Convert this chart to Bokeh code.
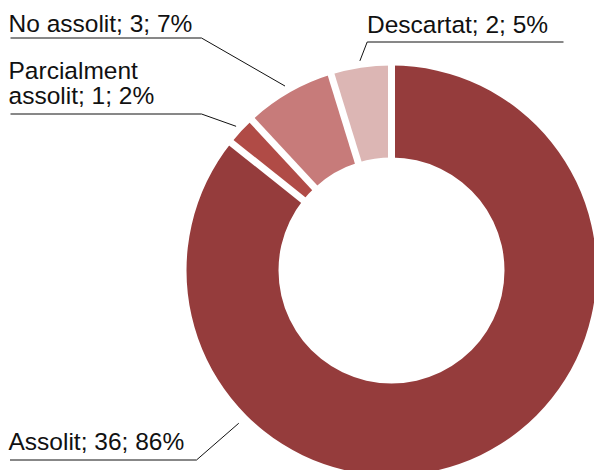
import math
from bokeh.plotting import figure
from bokeh.models import Range1d, ColumnDataSource
from bokeh.core.properties import value
from bokeh.embed import file_html
from bokeh.resources import INLINE

# ---- data ----
categories = ["Assolit", "Parcialment assolit", "No assolit", "Descartat"]
counts = [36, 1, 3, 2]
colors = ["#953c3c", "#b04b46", "#c77b7a", "#dcb6b4"]

# ---- layout (screen pixels of the 594x470 window) ----
W, H = 594, 470
def Y(sy):
    return H - sy

CX, CY = 391, 270
R_OUT, R_IN = 205, 113
GAP = 7
TEXT_SHIFT = 9  # renderer baseline correction

# label layout: text x, baselines, underline y, underline x0/x1, elbow side, leader radius, leader angle override
label_layout = {
    "Assolit": dict(tx=8, lines_split=False, base=[450.3], uy=459.5, ux0=9.5, ux1=196, elbow="right", r=216, ang=225),
    "Parcialment assolit": dict(tx=8, lines_split=True, base=[79, 104.3], uy=113.5, ux0=10, ux1=201, elbow="right", r=212, ang=None),
    "No assolit": dict(tx=8, lines_split=False, base=[31.7], uy=37.5, ux0=10, ux1=201, elbow="right", r=213, ang=None),
    "Descartat": dict(tx=366.5, lines_split=False, base=[32.7], uy=41.5, ux0=366.7, ux1=563, elbow="left", r=212, ang=None),
}

total = sum(counts)
pcts = [round(c * 100 / total) for c in counts]

starts, ends = [], []
cum = 0
for c in counts:
    a0 = math.pi / 2 - 2 * math.pi * cum / total
    cum += c
    a1 = math.pi / 2 - 2 * math.pi * cum / total
    starts.append(a1)
    ends.append(a0)
mids = [(s + e) / 2 for s, e in zip(starts, ends)]

p = figure(width=W, height=H, x_range=Range1d(0, W), y_range=Range1d(0, H),
           output_backend="svg", toolbar_location=None,
           x_axis_location=None, y_axis_location=None, min_border=0,
           outline_line_color=None, background_fill_color="white", border_fill_color="white")
p.grid.visible = False

src = ColumnDataSource(dict(cat=categories, start=starts, end=ends, color=colors))
p.annular_wedge(x=CX, y=Y(CY), inner_radius=R_IN, outer_radius=R_OUT,
                start_angle="start", end_angle="end", color="color",
                line_color=None, source=src)

# white separators at slice boundaries
bounds = ends
gx0 = [CX + (R_IN - 4) * math.cos(a) for a in bounds]
gy0 = [Y(CY) + (R_IN - 4) * math.sin(a) for a in bounds]
gx1 = [CX + (R_OUT + 4) * math.cos(a) for a in bounds]
gy1 = [Y(CY) + (R_OUT + 4) * math.sin(a) for a in bounds]
p.segment(x0=gx0, y0=gy0, x1=gx1, y1=gy1, line_color="white", line_width=GAP, line_cap="butt")

# labels + leaders
xs, ys = [], []
tx, ty, tt = [], [], []
for cat, c, pc, mid in zip(categories, counts, pcts, mids):
    L = label_layout[cat]
    ang = math.radians(L["ang"]) if L["ang"] is not None else mid
    ex = CX + L["r"] * math.cos(ang)
    ey = Y(CY) + L["r"] * math.sin(ang)
    if L["elbow"] == "right":
        xs.append([L["ux0"], L["ux1"], ex])
    else:
        xs.append([L["ux1"], L["ux0"], ex])
    ys.append([Y(L["uy"]), Y(L["uy"]), ey])
    label = f"{cat}; {c}; {pc}%"
    if L["lines_split"]:
        first, rest = label.split(" ", 1)
        parts = [first, rest]
    else:
        parts = [label]
    for part, b in zip(parts, L["base"]):
        tx.append(L["tx"])
        ty.append(Y(b - TEXT_SHIFT))
        tt.append(part)

p.multi_line(xs=xs, ys=ys, line_color="#111111", line_width=1)
p.text(x=tx, y=ty, text=tt, text_font=value("Liberation Sans"), text_font_size="24.5px",
       text_color="#111111", text_baseline="alphabetic", text_align="left")

open("out.html", "w").write(file_html(p, INLINE))
